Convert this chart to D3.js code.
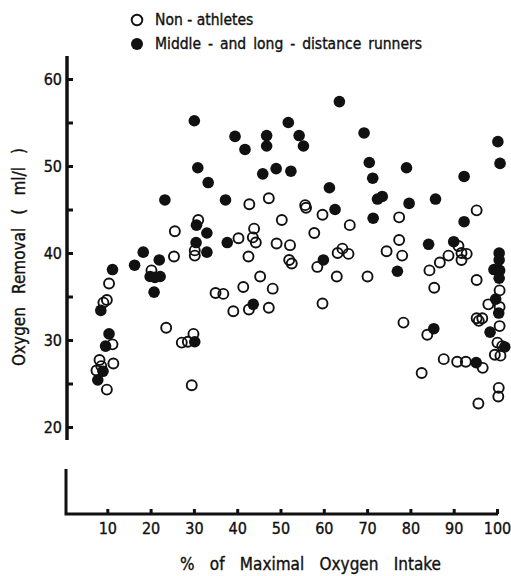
<!DOCTYPE html>
<html>
<head>
<meta charset="utf-8">
<script src="https://cdn.jsdelivr.net/npm/d3@7"></script>
<style>
  body { margin: 0; background: #fff; }
  text { font-family: "DejaVu Sans Condensed", "Liberation Sans Narrow", "Liberation Sans", sans-serif; fill: #111; stroke: #111; stroke-width: 0.35px; }
</style>
</head>
<body>
<div id="chart"></div>
<script>
/* oxygen removal vs % of maximal oxygen intake */

// non-athletes (open circles)
const nonX = [10.4, 9.9, 9.1, 11.2, 8.2, 11.4, 7.5, 8.6, 9.9, 20.2, 25.6, 25.4, 23.6, 27.2, 28.6, 29.9, 29.5, 31, 30.2, 30.2,
  42.8, 47.3, 55.7, 55.9, 59.7, 50.3, 66, 43.9, 57.8, 40.3, 43.6, 44.3, 49.1, 52.2, 42.6, 52.0, 52.6, 58.5, 63.2, 64.3, 65.7,
  45.3, 41.4, 35.0, 36.8, 48.2, 63.0, 39.1, 42.7, 47.3, 59.7,
  95.3, 77.4, 77.4, 91.1, 91.8, 93.0, 91.8, 74.5, 78.1, 88.8, 86.8, 84.4, 70.1, 85.5, 95.3, 100.6, 98.0, 100.6, 95.3, 96.6,
  95.8, 100.6, 78.4, 83.9, 100.1, 101.2, 99.5, 100.8, 87.7, 90.8, 92.8, 96.7, 82.6, 100.4, 100.3, 95.7]
const nonY = [36.5, 34.6, 34.3, 29.5, 27.7, 27.3, 26.5, 27.0, 24.3, 38.0, 42.5, 39.6, 31.4, 29.7, 29.8, 30.7, 24.8, 43.8, 39.7, 40.3,
  45.6, 46.3, 45.5, 45.2, 44.4, 43.8, 43.2, 42.8, 42.3, 41.7, 41.8, 41.2, 41.1, 40.9, 39.6, 39.2, 38.8, 38.4, 40.0, 40.5, 39.9,
  37.3, 36.1, 35.4, 35.3, 35.9, 37.3, 33.3, 33.5, 33.7, 34.2,
  44.9, 44.1, 41.5, 40.8, 40.0, 39.9, 39.2, 40.2, 39.7, 39.7, 38.9, 38.0, 37.3, 36.0, 36.9, 35.7, 34.1, 33.8, 32.5, 32.5,
  32.2, 31.6, 32.0, 30.6, 29.7, 29.3, 28.3, 28.2, 27.8, 27.5, 27.5, 26.8, 26.2, 24.5, 23.5, 22.7]

// middle- and long-distance runners (filled circles)
const runX = [18.3, 22.0, 11.2, 16.3, 19.9, 21.0, 22.2, 20.8, 8.5, 10.4, 9.6, 9.0, 7.8, 30.2, 30.1, 30.9, 33.3, 23.3, 30.6, 33.0, 30.5, 33.0,
  63.6, 51.8, 39.5, 46.8, 54.3, 41.8, 46.8, 55.3, 45.9, 49.0, 52.4, 61.3, 37.3, 62.6, 37.7, 59.9, 43.7,
  69.3, 100.2, 70.5, 100.7, 79.1, 92.4, 71.3, 72.4, 73.5, 79.7, 85.8, 71.4, 92.4, 84.2, 90.0, 77.0,
  100.5, 100.5, 99.3, 100.6, 100.5, 99.7, 100.4, 98.4, 85.4, 101.8, 95.2]
const runY = [40.1, 39.2, 38.1, 38.6, 37.3, 37.2, 37.3, 35.5, 33.4, 30.7, 29.3, 26.4, 25.4, 29.8, 55.2, 49.8, 48.1, 46.1, 43.2, 42.3, 41.2, 40.1,
  57.4, 55.0, 53.4, 53.5, 53.5, 51.9, 52.3, 52.3, 49.1, 49.7, 49.4, 47.5, 46.1, 45.0, 41.2, 39.2, 34.1,
  53.8, 52.8, 50.4, 50.3, 49.8, 48.8, 48.6, 46.2, 46.5, 45.7, 46.2, 44.0, 43.6, 41.0, 41.3, 37.9,
  40.0, 39.2, 38.1, 38.0, 37.1, 34.7, 33.1, 30.9, 31.3, 29.2, 27.4]

const xTicks = [10, 20, 30, 40, 50, 60, 70, 80, 90, 100]
const yTicks = [20, 25, 30, 35, 40, 45, 50, 55, 60]
const legendLabels = ["Non - athletes", "Middle - and long - distance runners"]
const xTitle = "% of Maximal Oxygen Intake"
const yTitle = "Oxygen Removal ( ml/l )"

const width = 511, height = 576

const svg = d3.select("#chart").append("svg")
    .attr("width", width).attr("height", height)

const x = d3.scaleLinear().domain([0, 100]).range([64, 497])
const y = d3.scaleLinear().domain([20, 60]).range([427, 79])

// stretch the gaps between words so a label spans the wanted width
function fitWords(sel, target) {
    const node = sel.node()
    const natural = node.getComputedTextLength()
    const gaps = node.textContent.split(" ").length - 1
    if (gaps > 0) sel.attr("word-spacing", Math.max(0, (target - natural) / gaps))
    return sel
}

// y axis, ticks point inward
const yAxis = g => g
    .attr("transform", "translate(67,0)")
    .call(d3.axisLeft(y).tickValues(yTicks)
        .tickFormat(d => d % 10 === 0 ? d : "")
        .tickSizeInner(-6).tickSizeOuter(0).tickPadding(5))
    .call(g => g.select(".domain").remove())
    .call(g => g.selectAll(".tick line").attr("stroke", "#111").attr("stroke-width", 3))
    .call(g => g.selectAll(".tick text").attr("font-size", 16).attr("fill", "#111"))

svg.append("g").call(yAxis)
svg.append("line").attr("x1", 67).attr("x2", 67).attr("y1", 56).attr("y2", 440)
    .attr("stroke", "#111").attr("stroke-width", 3.5)

// broken x axis part
const xAxis = g => g
    .attr("transform", "translate(0,514)")
    .call(d3.axisBottom(x).tickValues(xTicks)
        .tickSizeInner(-5).tickSizeOuter(0).tickPadding(9))
    .call(g => g.select(".domain").remove())
    .call(g => g.selectAll(".tick line").attr("stroke", "#111").attr("stroke-width", 3))
    .call(g => g.selectAll(".tick text").attr("font-size", 16).attr("fill", "#111"))

svg.append("g").call(xAxis)
svg.append("path")
    .attr("d", "M66,469 V514 H498")
    .attr("fill", "none").attr("stroke", "#111").attr("stroke-width", 3)

// points
const nonData = nonX.map((v, i) => ({x: v, y: nonY[i]}))
const runData = runX.map((v, i) => ({x: v, y: runY[i]}))

svg.append("g").selectAll("circle")
    .data(nonData)
    .join("circle")
    .attr("cx", d => x(d.x))
    .attr("cy", d => y(d.y))
    .attr("r", 5)
    .attr("fill", "none")
    .attr("stroke", "#111")
    .attr("stroke-width", 1.9)

svg.append("g").selectAll("circle")
    .data(runData)
    .join("circle")
    .attr("cx", d => x(d.x))
    .attr("cy", d => y(d.y))
    .attr("r", 5.8)
    .attr("fill", "#111")

// legend
svg.append("circle").attr("cx", 137).attr("cy", 20).attr("r", 5.3)
    .attr("fill", "none").attr("stroke", "#111").attr("stroke-width", 1.9)
svg.append("circle").attr("cx", 137).attr("cy", 44).attr("r", 6).attr("fill", "#111")
fitWords(svg.append("text").attr("x", 155).attr("y", 25).attr("font-size", 15.5)
    .text(legendLabels[0]), 95)
fitWords(svg.append("text").attr("x", 155).attr("y", 49).attr("font-size", 15.5)
    .text(legendLabels[1]), 267)

// titles
fitWords(svg.append("text").attr("x", 180).attr("y", 570).attr("font-size", 17)
    .text(xTitle), 261)
fitWords(svg.append("text")
    .attr("transform", "translate(25,366) rotate(-90)")
    .attr("font-size", 17)
    .text(yTitle), 218)
</script>
</body>
</html>
